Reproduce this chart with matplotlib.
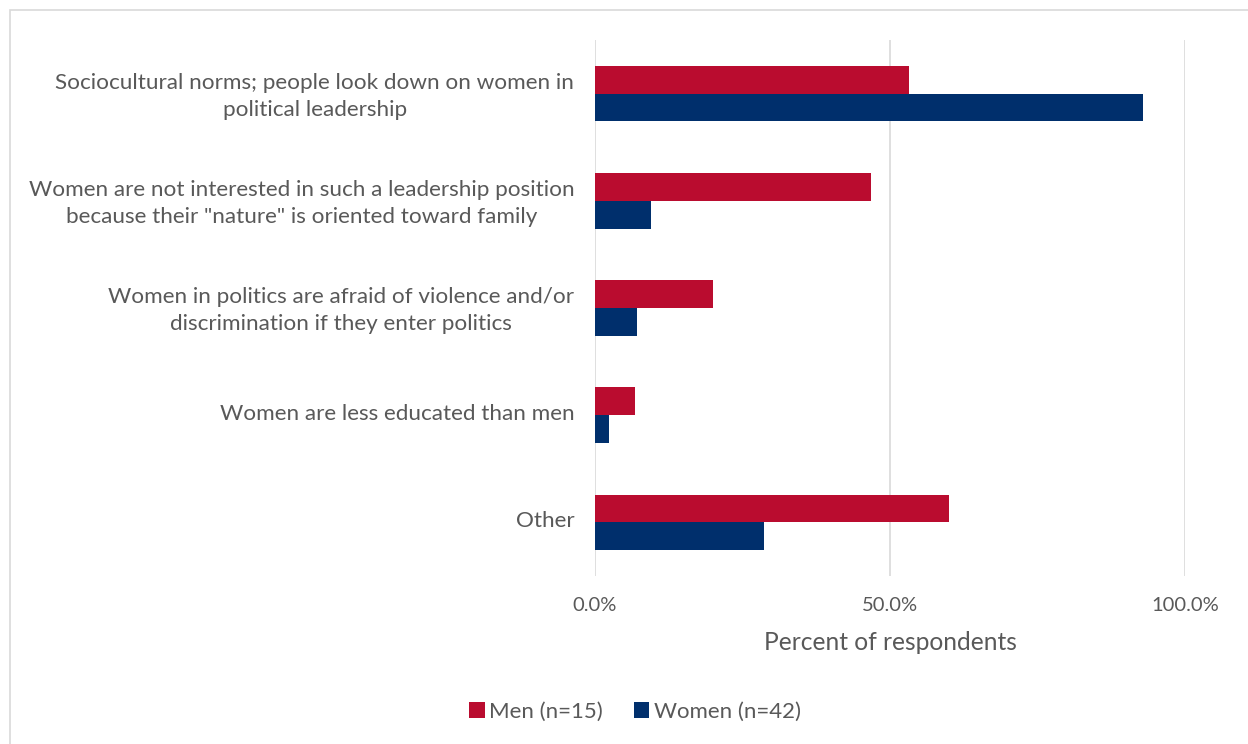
import matplotlib
matplotlib.use("Agg")
import matplotlib.pyplot as plt
from matplotlib.patches import Rectangle
import matplotlib.transforms as mtrans
import numpy as np

categories = [
    "Sociocultural norms; people look down on women in\npolitical leadership",
    "Women are not interested in such a leadership position\nbecause their \"nature\" is oriented toward family",
    "Women in politics are afraid of violence and/or\ndiscrimination if they enter politics",
    "Women are less educated than men",
    "Other",
]
men = [53.3, 46.7, 20.0, 6.7, 60.0]
women = [92.9, 9.5, 7.1, 2.4, 28.6]
series_labels = ["Men (n=15)", "Women (n=42)"]
xticks = [0, 50, 100]
xticklabels = ["0.0%", "50.0%", "100.0%"]
xlabel = "Percent of respondents"

RED = "#BA0C2F"
NAVY = "#002F6C"
TXT = "#595959"

plt.rcParams['font.family'] = ['Lato', 'DejaVu Sans']

fig = plt.figure(figsize=(12.48, 7.44), dpi=100)
fig.patches.append(Rectangle((10/1248, -0.01), 1.02, 1 - 10/744 + 0.01,
                             transform=fig.transFigure, fill=False,
                             edgecolor="#d9d9d9", linewidth=1.2))
ax = fig.add_axes([595/1248, 1 - 576/744, (1185 - 595)/1248, (576 - 40)/744])

y = np.arange(len(categories))
h = 0.26
ax.barh(y - h/2, men, height=h, color=RED, label=series_labels[0], zorder=3)
ax.barh(y + h/2, women, height=h, color=NAVY, label=series_labels[1], zorder=3)

ax.set_ylim(len(categories) - 0.5, -0.5)
ax.set_xlim(0, 100)
ax.set_xticks(xticks)
ax.set_xticklabels(xticklabels, fontsize=14.5, color=TXT)
ax.set_yticks(y)
ax.set_yticklabels(categories, fontsize=16.2, color=TXT, ha="right",
                   multialignment="center", linespacing=1.45)
ax.tick_params(axis="y", length=0, pad=15)
ax.tick_params(axis="x", length=0, pad=15)
offset = mtrans.ScaledTranslation(0, 3 / 100, fig.dpi_scale_trans)
for lbl in ax.get_yticklabels():
    lbl.set_transform(lbl.get_transform() + offset)
ax.set_xlabel(xlabel, fontsize=17.7, color=TXT, labelpad=12)
ax.grid(axis="x", color="#d9d9d9", linewidth=1.2, zorder=0)
for s in ax.spines.values():
    s.set_visible(False)

leg = fig.legend(loc="center", bbox_to_anchor=(635/1248, 1 - 712/744), ncol=2,
                 frameon=False, fontsize=16, handlelength=0.7, handleheight=0.7,
                 handletextpad=0.2, columnspacing=1.4)
for t in leg.get_texts():
    t.set_color(TXT)

fig.savefig("out.png", dpi=100)
